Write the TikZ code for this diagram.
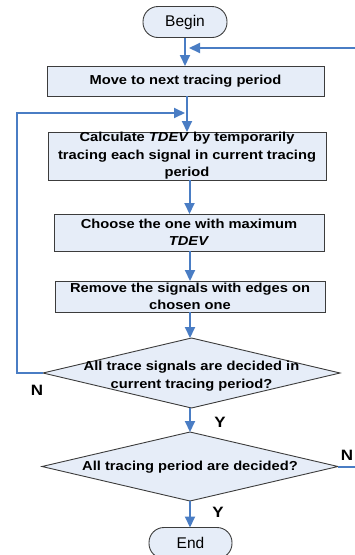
\documentclass[tikz,border=0pt]{standalone}
\usepackage{fontspec}
\setmainfont[FakeStretch=1.13]{Liberation Sans}
\newfontfamily\plainfont{Liberation Sans}
\usetikzlibrary{arrows.meta,shapes.geometric}
\definecolor{flowblue}{HTML}{4A7DC4}
\definecolor{boxfill}{HTML}{E6EDF8}
\definecolor{boxline}{HTML}{3C3C3C}
\begin{document}
\begin{tikzpicture}[x=1pt,y=-1pt,
  every node/.style={inner sep=0pt, outer sep=0pt},
  stepbox/.style={rectangle, draw=boxline, line width=0.9pt, fill=boxfill,
    align=center, font=\fontsize{13}{17.5}\selectfont\bfseries},
  terminal/.style={rectangle, rounded corners=15pt, draw=boxline, line width=0.9pt,
    fill=boxfill, minimum width=84pt, minimum height=31pt,
    font=\plainfont\fontsize{15.5}{18}\selectfont},
  decision/.style={diamond, draw=boxline, line width=0.9pt, fill=boxfill},
  decisiontext/.style={align=center, font=\fontsize{13}{17.5}\selectfont\bfseries},
  branchlabel/.style={font=\fontsize{15}{15}\selectfont\bfseries},
  flow/.style={draw=flowblue, line width=2pt, -{Triangle[width=10pt,length=11pt]}}]
\useasboundingbox (0,0) rectangle (354,555);

% steps of the procedure
\node[terminal] (begin) at (185,22) {Begin};
\node[stepbox, minimum width=277pt, minimum height=30pt] (move) at (185.5,81)
  {Move to next tracing period};
\node[stepbox, minimum width=278pt, minimum height=48pt] (calc) at (187,156)
  {Calculate \textit{TDEV} by temporarily\\tracing each signal in current tracing\\period};
\node[stepbox, minimum width=270pt, minimum height=37pt] (choose) at (189,232.5)
  {Choose the one with maximum\\\textit{TDEV}};
\node[stepbox, minimum width=270pt, minimum height=31pt] (remove) at (190,296.5)
  {Remove the signals with edges on\\chosen one};
\node[decision, minimum width=297pt, minimum height=70pt] (d1) at (191.5,373) {};
\node[decisiontext] (d1t) at (191.5,376)
  {All trace signals are decided in\\current tracing period?};
\node[decision, minimum width=296pt, minimum height=69pt] (d2) at (190,466.5) {};
\node[decisiontext] (d2t) at (190,467) {All tracing period are decided?};
\node[terminal, minimum width=83pt] (end) at (190.5,543) {End};

% main flow
\draw[flow] (begin.south) -- (begin.south |- move.north);
\draw[flow] (187,96) coordinate (moveout) -- (moveout |- calc.north);
\draw[flow] (189.5,180) coordinate (calcout) -- (calcout |- choose.north);
\draw[flow] (190,251) coordinate (chooseout) -- (chooseout |- remove.north);
\draw[flow] (remove.south) -- (remove.south |- d1.north);
\draw[flow] (190,408) coordinate (d1out) -- (d1out |- d2.north);
\draw[flow] (d2.south) -- (d2.south |- end.north);

% loop back for the next signal
\coordinate (ltcorner) at (17,113);
\coordinate (joinB) at (185,113);
\draw[flow] (d1.west) -| (ltcorner) -- (joinB);

% loop back for the next tracing period
\coordinate (rtcorner) at (364,48);
\coordinate (joinA) at (189,48);
\draw[flow] (d2.east) -| (rtcorner) -- (joinA);

% branch labels
\node[branchlabel] (n1) at (37,390) {N};
\node[branchlabel] (y1) at (220,422) {Y};
\node[branchlabel] (n2) at (347,455) {N};
\node[branchlabel] (y2) at (218,512) {Y};
\end{tikzpicture}
\end{document}
